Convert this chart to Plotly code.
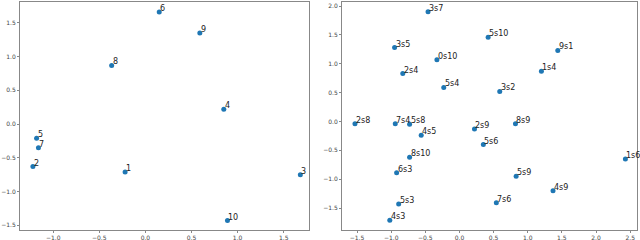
import plotly.graph_objects as go

left_labels = ["1", "2", "3", "4", "5", "6", "7", "8", "9", "10"]
left_x = [-0.22, -1.22, 1.68, 0.85, -1.18, 0.15, -1.16, -0.366, 0.59, 0.89]
left_y = [-0.71, -0.63, -0.75, 0.22, -0.21, 1.66, -0.35, 0.87, 1.35, -1.43]

right_labels = ["3s7", "3s5", "0s10", "2s4", "5s4", "5s10", "9s1", "1s4", "3s2",
                "2s8", "7s4", "5s8", "4s5", "2s9", "8s9", "5s6", "8s10", "6s3",
                "1s6", "5s9", "4s9", "5s3", "7s6", "4s3"]
right_x = [-0.46, -0.95, -0.33, -0.83, -0.23, 0.42, 1.44, 1.20, 0.59,
           -1.53, -0.94, -0.73, -0.56, 0.22, 0.82, 0.35, -0.73, -0.92,
           2.43, 0.83, 1.37, -0.89, 0.54, -1.02]
right_y = [1.90, 1.28, 1.07, 0.83, 0.59, 1.46, 1.23, 0.87, 0.52,
           -0.04, -0.04, -0.05, -0.24, -0.13, -0.04, -0.40, -0.62, -0.89,
           -0.65, -0.95, -1.20, -1.43, -1.41, -1.71]

left_xticks = [-1.0, -0.5, 0.0, 0.5, 1.0, 1.5]
left_yticks = [-1.5, -1.0, -0.5, 0.0, 0.5, 1.0, 1.5]
right_xticks = [-1.5, -1.0, -0.5, 0.0, 0.5, 1.0, 1.5, 2.0, 2.5]
right_yticks = [-1.5, -1.0, -0.5, 0.0, 0.5, 1.0, 1.5, 2.0]

W, H = 640, 240
BLUE = "#1f77b4"
LABEL_FONT = dict(family="DejaVu Sans", size=8, color="#222222")

fig = go.Figure()
fig.add_trace(go.Scatter(
    x=left_x, y=left_y, mode="markers",
    marker=dict(color=BLUE, size=5),
    xaxis="x", yaxis="y", showlegend=False, cliponaxis=False))
fig.add_trace(go.Scatter(
    x=right_x, y=right_y, mode="markers",
    marker=dict(color=BLUE, size=5),
    xaxis="x2", yaxis="y2", showlegend=False, cliponaxis=False))

annotations = []
for lx, ly, lt in zip(left_x, left_y, left_labels):
    annotations.append(dict(x=lx, y=ly, text=lt, xref="x", yref="y",
                            showarrow=False, xanchor="left", yanchor="bottom",
                            xshift=-1, yshift=-3, font=LABEL_FONT))
for rx, ry, rt in zip(right_x, right_y, right_labels):
    annotations.append(dict(x=rx, y=ry, text=rt, xref="x2", yref="y2",
                            showarrow=False, xanchor="left", yanchor="bottom",
                            xshift=-1, yshift=-3, font=LABEL_FONT))

ax_common = dict(
    showgrid=False, zeroline=False, showline=True, mirror=True,
    linecolor="#888888", linewidth=1, ticks="outside", ticklen=2,
    tickcolor="#888888", tickformat=".1f", automargin=False,
    tickfont=dict(family="DejaVu Sans", size=6, color="#444444"),
)

ydom = [(H - 230) / H, (H - 2) / H]
fig.update_layout(
    width=W, height=H,
    margin=dict(l=0, r=0, t=0, b=0),
    paper_bgcolor="white", plot_bgcolor="white",
    annotations=annotations,
    xaxis=dict(domain=[20 / W, 309 / W], range=[-1.36, 1.774],
               tickvals=left_xticks, anchor="y", **ax_common),
    yaxis=dict(domain=ydom, range=[-1.57, 1.81],
               tickvals=left_yticks, anchor="x", **ax_common),
    xaxis2=dict(domain=[342 / W, 637 / W], range=[-1.72, 2.60],
                tickvals=right_xticks, anchor="y2", **ax_common),
    yaxis2=dict(domain=ydom, range=[-1.88, 2.07],
                tickvals=right_yticks, anchor="x2", **ax_common),
)

fig.write_html("out.html",
               config={"displayModeBar": False, "staticPlot": True},
               post_script="document.body.style.margin='0';"
                           "document.body.style.overflow='hidden';")
